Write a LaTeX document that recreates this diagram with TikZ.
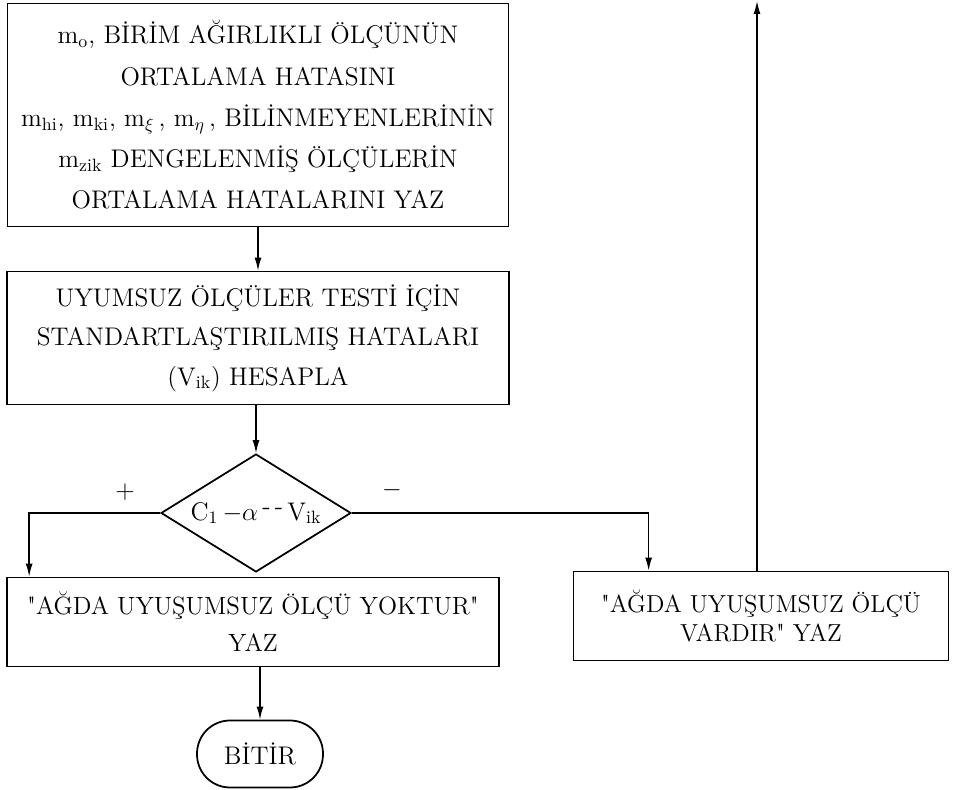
\documentclass[tikz,border=0pt]{standalone}
\usepackage{fontspec}
\usepackage{amsmath}
\usepackage{tikz}
\usetikzlibrary{shapes.geometric,arrows.meta}

\tikzset{
  kutu/.style={draw,line width=1pt,align=center,inner sep=0pt},
  ok/.style={line width=0.8pt,-{Latex[length=2.6mm,width=1.4mm]}},
}

\begin{document}
\begin{tikzpicture}[x=0.02cm,y=-0.02cm,font=\fontsize{14.5}{22.5}\selectfont]
  \useasboundingbox (0,0) rectangle (958,790);
  \node[kutu,minimum width=10.02cm,minimum height=4.46cm,
        font=\fontsize{14.5}{23.5}\selectfont] (yaz) at (258,115)
    {m$_{\mathrm{o}}$, BİRİM AĞIRLIKLI ÖLÇÜNÜN\\
     ORTALAMA HATASINI\\
     m$_{\mathrm{hi}}$, m$_{\mathrm{ki}}$, m$_{\xi}$\,, m$_{\eta}$\,, BİLİNMEYENLERİNİN\\
     m$_{\mathrm{zik}}$ DENGELENMİŞ ÖLÇÜLERİN\\
     ORTALAMA HATALARINI YAZ};
  \node[kutu,minimum width=10.04cm,minimum height=2.66cm] (hesap) at (258,338)
    {UYUMSUZ ÖLÇÜLER TESTİ İÇİN\\
     STANDARTLAŞTIRILMIŞ HATALARI\\
     (V$_{\mathrm{ik}}$) HESAPLA};
  \node[draw,diamond,line width=1pt,inner sep=0pt,aspect=1.6,
        minimum width=3.8cm,minimum height=2.36cm] (kosul) at (256,513)
    {C$_1$\,$-\alpha$\,\raisebox{3pt}{-\,-}\,V$_{\mathrm{ik}}$};
  \node[kutu,minimum width=9.84cm,minimum height=1.78cm,
        font=\fontsize{14.2}{21}\selectfont] (yok) at (253,622)
    {\textquotedbl AĞDA UYUŞUMSUZ ÖLÇÜ YOKTUR\textquotedbl\\ YAZ};
  \node[kutu,minimum width=7.5cm,minimum height=1.78cm,
        font=\fontsize{14}{17}\selectfont] (var) at (761,616)
    {\textquotedbl AĞDA UYUŞUMSUZ ÖLÇÜ\\ VARDIR\textquotedbl\ YAZ};
  \node[draw,line width=1pt,rounded corners=0.66cm,minimum width=2.52cm,
        minimum height=1.34cm] (bitir) at (260,754) {BİTİR};
  \node (arti) at (125,492) {+};
  \node (eksi) at (392,490) {$-$};
  \coordinate (ust) at (757,1);

  \foreach \a/\b in {yaz/hesap,hesap/kosul,yok/bitir} {
    \draw[ok] (\a.south -| \b) -- (\b.north);
  }
  \draw[ok] (kosul.west) -| ([xshift=0.46cm]yok.north west);
  \draw[ok] (kosul.east) -| ([xshift=1.52cm]var.north west);
  \draw[ok] (var.north -| ust) -- (ust);
\end{tikzpicture}
\end{document}
